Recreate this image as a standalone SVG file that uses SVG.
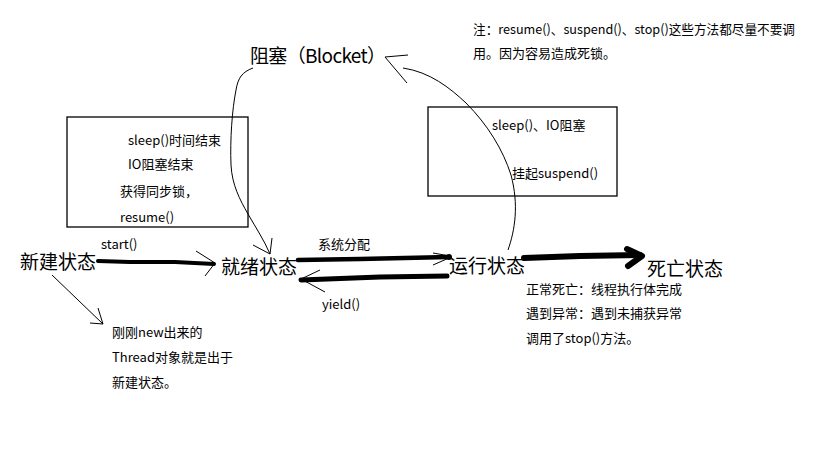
<svg xmlns="http://www.w3.org/2000/svg" width="819" height="460" viewBox="0 0 819 460">
<style>
text{font-family:"Noto Sans CJK SC","Microsoft YaHei",sans-serif;fill:#000}
.big{font-size:19px}
.sm{font-size:13px}
.thin{fill:none;stroke:#000;stroke-width:1}
.thick{fill:none;stroke:#000;stroke-linecap:round;stroke-linejoin:round}
.box{fill:none;stroke:#000;stroke-width:1.3}
</style>
<rect width="819" height="460" fill="#fff"/>
<g id="note">
<text class="sm" x="473" y="34" textLength="322" lengthAdjust="spacingAndGlyphs">注：resume()、suspend()、stop()这些方法都尽量不要调</text>
<text class="sm" x="473" y="58">用。因为容易造成死锁。</text>
</g>
<g id="blocked"><text class="big" x="250" y="63" textLength="136" lengthAdjust="spacing">阻塞（Blocket）</text></g>
<g id="box-left">
<rect class="box" x="67" y="117" width="181" height="110"/>
<text class="sm" x="128" y="145">sleep()时间结束</text>
<text class="sm" x="128" y="169">IO阻塞结束</text>
<text class="sm" x="120" y="196">获得同步锁，</text>
<text class="sm" x="120" y="222">resume()</text>
</g>
<g id="box-right">
<rect class="box" x="428" y="107" width="189" height="89"/>
<text class="sm" x="492" y="130">sleep()、IO阻塞</text>
<text class="sm" x="512" y="178">挂起suspend()</text>
</g>
<g id="new"><text class="big" x="20" y="269">新建状态</text></g>
<g id="ready"><text class="big" x="221" y="274">就绪状态</text></g>
<g id="running"><text class="big" x="449" y="273">运行状态</text></g>
<g id="dead"><text class="big" x="647" y="276">死亡状态</text></g>
<g id="dead-note">
<text class="sm" x="526" y="294">正常死亡：线程执行体完成</text>
<text class="sm" x="526" y="318">遇到异常：遇到未捕获异常</text>
<text class="sm" x="526" y="343">调用了stop()方法。</text>
</g>
<g id="new-note">
<text class="sm" x="112" y="337">刚刚new出来的</text>
<text class="sm" x="112" y="362">Thread对象就是出于</text>
<text class="sm" x="112" y="387">新建状态。</text>
</g>
<g id="connectors">
<text class="sm" x="101" y="249">start()</text>
<text class="sm" x="318" y="249">系统分配</text>
<text class="sm" x="322" y="309">yield()</text>
<polyline class="thick" stroke-width="4" points="98,261 130,262 175,262 214,264"/>
<polyline class="thin" points="196,251 215,263 205,276"/>
<polyline class="thick" stroke-width="4.5" points="298,260 360,259 449,257"/>
<circle cx="449" cy="257" r="3"/>
<polyline class="thin" points="433,253 450,256"/>
<polyline class="thin" points="433,265 449,258"/>
<polyline class="thick" stroke-width="5" points="447,276 380,277 301,280"/>
<polyline class="thin" points="320,270 301,279 325,292"/>
<polyline class="thick" stroke-width="6" points="524,258 580,256 640,255"/>
<polyline class="thick" stroke-width="6" points="627,249 642,256 628,266"/>
<polyline class="thin" points="52,275 103,324"/>
<polyline class="thin" points="98,308 103,324 90,323"/>
<path class="thin" d="M253,68 C242,72 238,78 236,90 C232,110 230,140 231,165 C232,185 240,200 248,214 C256,228 264,240 270,254"/>
<polyline class="thin" points="253,245 270,254 272,238"/>
<path class="thin" d="M508,250 C515,230 519,205 511,175 C503,150 488,125 466,103 C450,88 430,72 403,68"/>
<polyline class="thin" points="408,55 385,57 407,83"/>
</g>
</svg>
